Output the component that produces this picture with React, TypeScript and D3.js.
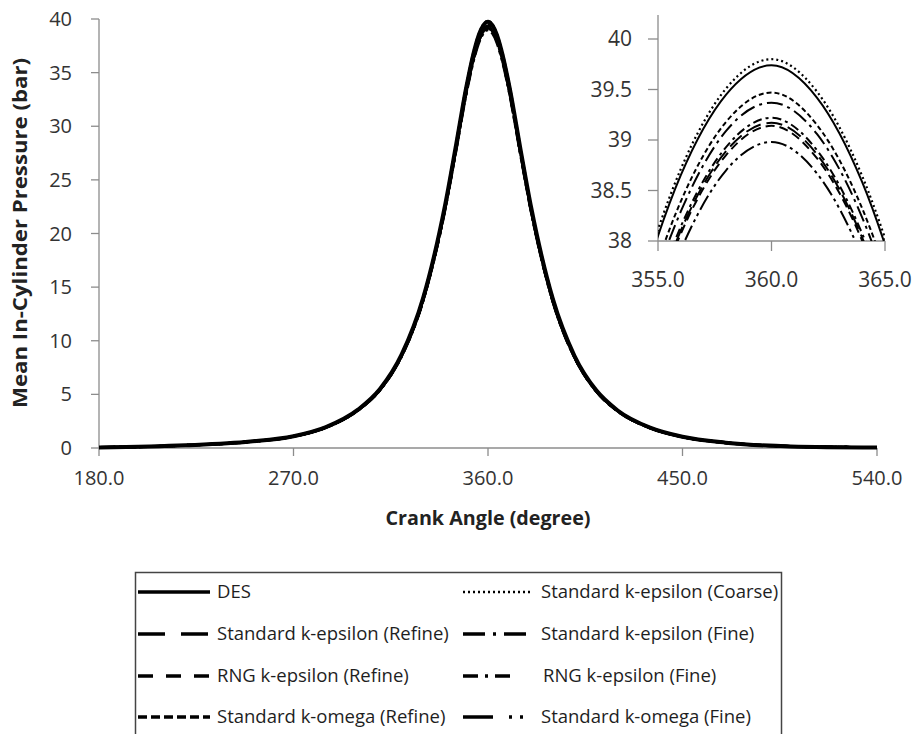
import React from 'react';
import * as d3 from 'd3';

// ---------------- DATA ----------------
const angles = [180, 220, 250, 270, 285, 300, 310, 320, 330, 340, 345, 350, 354, 356, 358, 360, 362, 364, 366, 370, 375, 380, 390, 400, 410, 420, 435, 450, 470, 500, 540];

const desP = [0.05, 0.25, 0.6, 1.1, 1.95, 3.6, 5.5, 8.7, 14.0, 22.5, 28.0, 33.7, 37.35, 38.65, 39.45, 39.74, 39.42, 38.58, 37.25, 33.6, 27.9, 22.4, 13.9, 8.6, 5.4, 3.5, 1.9, 1.05, 0.5, 0.15, 0.05];
const keCoarseP = [0.05, 0.25, 0.6, 1.1, 1.95, 3.61, 5.51, 8.71, 14.02, 22.53, 28.04, 33.75, 37.41, 38.71, 39.51, 39.8, 39.48, 38.64, 37.31, 33.65, 27.94, 22.43, 13.92, 8.61, 5.41, 3.51, 1.9, 1.05, 0.5, 0.15, 0.05];
const keRefineP = [0.05, 0.25, 0.59, 1.08, 1.92, 3.55, 5.42, 8.58, 13.8, 22.18, 27.6, 33.22, 36.82, 38.1, 38.89, 39.17, 38.86, 38.03, 36.72, 33.12, 27.5, 22.08, 13.7, 8.48, 5.32, 3.45, 1.87, 1.03, 0.49, 0.15, 0.05];
const keFineP = [0.05, 0.25, 0.59, 1.09, 1.93, 3.57, 5.45, 8.62, 13.87, 22.29, 27.74, 33.39, 37.01, 38.29, 39.09, 39.37, 39.06, 38.23, 36.91, 33.29, 27.64, 22.19, 13.77, 8.52, 5.35, 3.47, 1.88, 1.04, 0.5, 0.15, 0.05];
const rngRefineP = [0.05, 0.25, 0.59, 1.08, 1.92, 3.55, 5.42, 8.57, 13.79, 22.16, 27.58, 33.19, 36.79, 38.07, 38.85, 39.14, 38.82, 38.0, 36.69, 33.09, 27.48, 22.06, 13.69, 8.47, 5.32, 3.45, 1.87, 1.03, 0.49, 0.15, 0.05];
const rngFineP = [0.05, 0.25, 0.59, 1.09, 1.92, 3.55, 5.43, 8.59, 13.82, 22.21, 27.63, 33.26, 36.86, 38.14, 38.93, 39.22, 38.9, 38.07, 36.76, 33.16, 27.53, 22.11, 13.72, 8.49, 5.33, 3.45, 1.88, 1.04, 0.49, 0.15, 0.05];
const kwRefineP = [0.05, 0.25, 0.6, 1.09, 1.94, 3.58, 5.46, 8.64, 13.9, 22.35, 27.81, 33.47, 37.1, 38.39, 39.18, 39.47, 39.15, 38.32, 37.0, 33.37, 27.71, 22.25, 13.81, 8.54, 5.36, 3.48, 1.89, 1.04, 0.5, 0.15, 0.05];
const kwFineP = [0.05, 0.25, 0.59, 1.08, 1.91, 3.53, 5.39, 8.53, 13.73, 22.07, 27.47, 33.06, 36.64, 37.91, 38.7, 38.98, 38.67, 37.84, 36.54, 32.96, 27.37, 21.97, 13.63, 8.44, 5.3, 3.43, 1.86, 1.03, 0.49, 0.15, 0.05];

const seriesNames = [
  'DES',
  'Standard k-epsilon (Coarse)',
  'Standard k-epsilon (Refine)',
  'Standard k-epsilon (Fine)',
  'RNG k-epsilon (Refine)',
  'RNG k-epsilon (Fine)',
  'Standard k-omega (Refine)',
  'Standard k-omega (Fine)',
];
const seriesValues = [desP, keCoarseP, keRefineP, keFineP, rngRefineP, rngFineP, kwRefineP, kwFineP];

const mainXTicks = [180, 270, 360, 450, 540];
const mainYTicks = [0, 5, 10, 15, 20, 25, 30, 35, 40];
const insetXTicks = [355, 360, 365];
const insetYTicks = [38, 38.5, 39, 39.5, 40];
const insetYLabels = ['38', '38.5', '39', '39.5', '40'];

// ---------------- STYLES ----------------
const plotDash = ['', '2,3', '16,6', '16,5,3,5', '9,5', '9,4,3,4', '5,3', '16,4,3,4,3,4'];
const legendDash = ['', '2,3', '27,16', '22,8,3,8,22,100', '15,13', '15,7,3,7,15,100', '9,4', '30,16,3,8,3,100'];
const legendSampleLen = [72, 69, 72, 67, 72, 59, 72, 63];

const FONT = "'Open Sans', 'Noto Sans', sans-serif";
const AXIS_COLOR = '#8c8c8c';
const TEXT_COLOR = '#333';

export default function App() {
  const W = 921, H = 734;

  // main plot
  const x = d3.scaleLinear().domain([180, 540]).range([99, 877]);
  const y = d3.scaleLinear().domain([0, 40]).range([448, 19]);

  // inset
  const xi = d3.scaleLinear().domain([355, 365]).range([658, 885]);
  const yi = d3.scaleLinear().domain([38, 40]).range([241, 39]);
  const insetTop = 15;

  const mainLine = (vals: number[]) =>
    d3.line<number>().x((_, i) => x(angles[i])).y((d) => y(d)).curve(d3.curveMonotoneX)(vals) || '';
  const insetLine = (vals: number[]) =>
    d3.line<number>().x((_, i) => xi(angles[i])).y((d) => yi(d)).curve(d3.curveMonotoneX)(vals) || '';

  const legendRows = [592, 634, 676, 717];
  const col1Sample = 138, col1Text = 217;
  const col2Sample = 463, col2Text = 541;

  return (
    <svg width={W} height={H} style={{ position: 'absolute', left: 0, top: 0, background: '#fff' }} fontFamily={FONT}>
      <rect x={0} y={0} width={W} height={H} fill="#fff" />
      <defs>
        <clipPath id="insetClip">
          <rect x={xi(355)} y={insetTop} width={xi(365) - xi(355)} height={yi(38) - insetTop} />
        </clipPath>
      </defs>

      {/* main axes */}
      <line x1={x(180)} x2={x(540)} y1={y(0)} y2={y(0)} stroke={AXIS_COLOR} strokeWidth={1.3} />
      <line x1={x(180)} x2={x(180)} y1={y(0)} y2={y(40)} stroke={AXIS_COLOR} strokeWidth={1.3} />
      {mainYTicks.map((t) => (
        <g key={'my' + t}>
          <line x1={x(180) - 8} x2={x(180)} y1={y(t)} y2={y(t)} stroke={AXIS_COLOR} strokeWidth={1.3} />
          <text x={72} y={y(t)} dy="0.35em" textAnchor="end" fontSize={20} fill={TEXT_COLOR}>{t}</text>
        </g>
      ))}
      {mainXTicks.map((t) => (
        <g key={'mx' + t}>
          <line x1={x(t)} x2={x(t)} y1={y(0)} y2={y(0) + 8} stroke={AXIS_COLOR} strokeWidth={1.3} />
          <text x={x(t)} y={485} textAnchor="middle" fontSize={20} fill={TEXT_COLOR}>{t.toFixed(1)}</text>
        </g>
      ))}
      <text x={488} y={525} textAnchor="middle" fontSize={20} fontWeight="bold" fill="#222"
        textLength={205} lengthAdjust="spacingAndGlyphs">Crank Angle (degree)</text>
      <text transform={`translate(27,233) rotate(-90)`} textAnchor="middle" fontSize={20} fontWeight="bold" fill="#222"
        textLength={350} lengthAdjust="spacingAndGlyphs">Mean In-Cylinder Pressure (bar)</text>

      {/* main lines */}
      {seriesValues.map((vals, i) => (
        <path key={'ml' + i} d={mainLine(vals)} fill="none" stroke="#000"
          strokeWidth={i === 0 ? 4 : 2.8} strokeDasharray={plotDash[i] || undefined} />
      ))}

      {/* inset axes */}
      <line x1={xi(355)} x2={xi(365)} y1={yi(38)} y2={yi(38)} stroke={AXIS_COLOR} strokeWidth={1.3} />
      <line x1={xi(355)} x2={xi(355)} y1={yi(38)} y2={insetTop} stroke={AXIS_COLOR} strokeWidth={1.3} />
      {insetYTicks.map((t, i) => (
        <g key={'iy' + t}>
          <line x1={xi(355) - 10} x2={xi(355)} y1={yi(t)} y2={yi(t)} stroke={AXIS_COLOR} strokeWidth={1.3} />
          <text x={632} y={yi(t)} dy="0.35em" textAnchor="end" fontSize={21} fill={TEXT_COLOR}>{insetYLabels[i]}</text>
        </g>
      ))}
      {insetXTicks.map((t) => (
        <g key={'ix' + t}>
          <line x1={xi(t)} x2={xi(t)} y1={yi(38)} y2={yi(38) + 10} stroke={AXIS_COLOR} strokeWidth={1.3} />
          <text x={xi(t)} y={287} textAnchor="middle" fontSize={21} fill={TEXT_COLOR}>{t.toFixed(1)}</text>
        </g>
      ))}
      <g clipPath="url(#insetClip)">
        {seriesValues.map((vals, i) => (
          <path key={'il' + i} d={insetLine(vals)} fill="none" stroke="#000"
            strokeWidth={i === 1 ? 2.2 : 2} strokeDasharray={plotDash[i] || undefined} />
        ))}
      </g>

      {/* legend */}
      <rect x={135.5} y={572.5} width={646} height={170} fill="#fff" stroke="#444" strokeWidth={1.5} />
      {seriesNames.map((name, i) => {
        const row = Math.floor(i / 2);
        const col = i % 2;
        const sx = col === 0 ? col1Sample : col2Sample;
        const tx = col === 0 ? col1Text : (i === 5 ? col2Text + 2 : col2Text);
        const cy = legendRows[row];
        return (
          <g key={'lg' + i}>
            <line x1={sx} x2={sx + legendSampleLen[i]} y1={cy} y2={cy} stroke="#000"
              strokeWidth={i === 1 ? 2.6 : 3.6} strokeDasharray={legendDash[i] || undefined} />
            <text x={tx} y={cy} dy="0.35em" fontSize={18.5} fill="#1e1e1e">{name}</text>
          </g>
        );
      })}
    </svg>
  );
}
